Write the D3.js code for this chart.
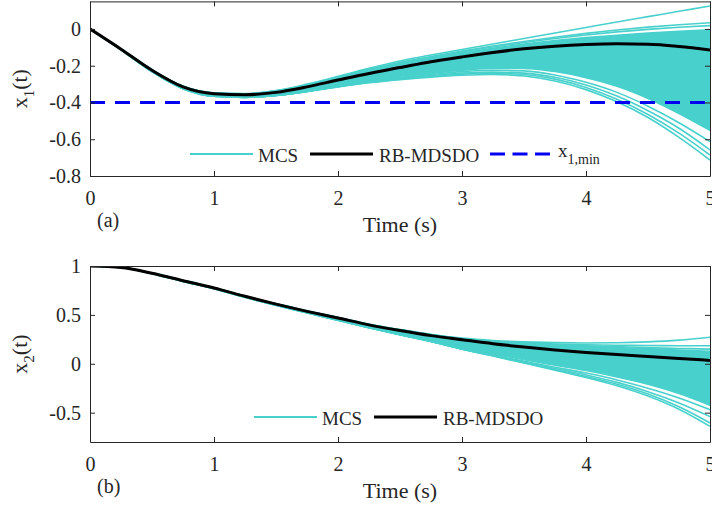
<!DOCTYPE html>
<html><head><meta charset="utf-8">
<script src="https://cdn.jsdelivr.net/npm/d3@7"></script>
<style>body{margin:0;background:#fff}svg{display:block}text{font-family:"Liberation Serif","Times New Roman",serif;fill:#262626}</style>
</head><body>
<svg id="chart" width="712" height="512"></svg>
<script>
const time = [0,0.25,0.5,0.75,1,1.25,1.5,1.75,2,2.25,2.5,2.75,3,3.25,3.5,3.75,4,4.25,4.5,4.75,5];
const xTicks = [0,1,2,3,4,5];

// (a) x1(t)
const x1Mean = [0,-0.11,-0.225,-0.315,-0.352,-0.358,-0.345,-0.315,-0.278,-0.242,-0.21,-0.178,-0.152,-0.128,-0.108,-0.094,-0.085,-0.081,-0.083,-0.095,-0.114];
const x1BandTop = [0,-0.108,-0.222,-0.312,-0.349,-0.354,-0.338,-0.307,-0.265,-0.222,-0.185,-0.155,-0.13,-0.105,-0.082,-0.063,-0.047,-0.034,-0.022,-0.012,-0.004];
const x1BandBottom = [0,-0.113,-0.232,-0.325,-0.366,-0.372,-0.362,-0.34,-0.312,-0.284,-0.262,-0.242,-0.225,-0.215,-0.215,-0.232,-0.265,-0.312,-0.378,-0.46,-0.552];
const x1Upper1 = [0,-0.108,-0.222,-0.312,-0.349,-0.352,-0.335,-0.3,-0.258,-0.214,-0.174,-0.142,-0.112,-0.082,-0.052,-0.022,0.008,0.038,0.067,0.096,0.125];
const x1Upper2 = [0,-0.108,-0.222,-0.312,-0.349,-0.353,-0.337,-0.305,-0.262,-0.22,-0.182,-0.15,-0.12,-0.093,-0.068,-0.045,-0.024,-0.006,0.01,0.023,0.034];
const x1Upper3 = [0,-0.108,-0.222,-0.312,-0.349,-0.353,-0.337,-0.306,-0.263,-0.221,-0.184,-0.153,-0.125,-0.098,-0.074,-0.052,-0.033,-0.016,-0.002,0.009,0.018];
const x1Lower1 = [0,-0.113,-0.232,-0.325,-0.366,-0.372,-0.362,-0.34,-0.313,-0.287,-0.266,-0.248,-0.232,-0.225,-0.228,-0.25,-0.29,-0.345,-0.42,-0.51,-0.613];
const x1Lower2 = [0,-0.113,-0.232,-0.325,-0.366,-0.372,-0.362,-0.34,-0.313,-0.289,-0.27,-0.254,-0.24,-0.235,-0.24,-0.263,-0.305,-0.365,-0.445,-0.54,-0.658];
const x1Lower3 = [0,-0.113,-0.232,-0.325,-0.366,-0.372,-0.362,-0.34,-0.314,-0.291,-0.273,-0.258,-0.246,-0.241,-0.248,-0.273,-0.318,-0.382,-0.465,-0.567,-0.686];
const x1Lower4 = [0,-0.113,-0.232,-0.325,-0.366,-0.372,-0.362,-0.34,-0.315,-0.293,-0.276,-0.262,-0.252,-0.248,-0.256,-0.283,-0.33,-0.396,-0.482,-0.59,-0.713];
const x1Min = -0.4;
const x1Ticks = [0,-0.2,-0.4,-0.6,-0.8];
const x1Domain = [-0.8, 0.15];

// (b) x2(t)
const x2Mean = [1,0.985,0.926,0.85,0.775,0.69,0.61,0.536,0.468,0.398,0.34,0.288,0.246,0.205,0.171,0.141,0.116,0.094,0.075,0.055,0.034];
const x2BandTop = [1,0.986,0.928,0.852,0.777,0.693,0.613,0.54,0.472,0.403,0.345,0.296,0.252,0.226,0.205,0.19,0.18,0.167,0.155,0.14,0.128];
const x2BandBottom = [1,0.984,0.922,0.843,0.767,0.68,0.598,0.522,0.445,0.37,0.3,0.232,0.16,0.1,0.04,-0.015,-0.07,-0.135,-0.21,-0.305,-0.425];
const x2Upper1 = [1,0.986,0.928,0.852,0.777,0.693,0.613,0.54,0.474,0.404,0.35,0.3,0.262,0.238,0.224,0.216,0.213,0.215,0.224,0.242,0.272];
const x2Upper2 = [1,0.986,0.928,0.852,0.777,0.693,0.613,0.54,0.473,0.402,0.348,0.298,0.257,0.232,0.214,0.202,0.194,0.19,0.187,0.185,0.184];
const x2Upper3 = [1,0.986,0.928,0.852,0.777,0.693,0.613,0.54,0.472,0.401,0.346,0.297,0.255,0.229,0.209,0.195,0.185,0.175,0.165,0.157,0.15];
const x2Lower1 = [1,0.984,0.922,0.843,0.767,0.68,0.598,0.522,0.445,0.37,0.298,0.228,0.155,0.09,0.025,-0.035,-0.095,-0.165,-0.25,-0.35,-0.47];
const x2Lower2 = [1,0.984,0.922,0.843,0.767,0.68,0.598,0.522,0.445,0.37,0.298,0.228,0.152,0.085,0.018,-0.048,-0.115,-0.19,-0.285,-0.4,-0.54];
const x2Lower3 = [1,0.984,0.922,0.843,0.767,0.68,0.598,0.522,0.445,0.37,0.298,0.228,0.15,0.082,0.012,-0.058,-0.13,-0.21,-0.31,-0.44,-0.605];
const x2Lower4 = [1,0.984,0.922,0.843,0.767,0.68,0.598,0.522,0.445,0.37,0.298,0.228,0.148,0.079,0.008,-0.065,-0.14,-0.225,-0.33,-0.465,-0.64];
const x2Ticks = [1,0.5,0,-0.5];
const x2Domain = [-0.8, 1];

const cyan = "#48D1CC", blue = "#0000F0", axisColor = "#262626";
const svg = d3.select("#chart");
const x = d3.scaleLinear().domain([0,5]).range([90,710]);

function panel(cfg){
  const y = d3.scaleLinear().domain(cfg.domain).range([cfg.bottom, cfg.top]);
  const g = svg.append("g");
  const clipId = "clip"+cfg.id;
  svg.append("defs").append("clipPath").attr("id",clipId)
    .append("rect").attr("x",90).attr("y",cfg.top).attr("width",620).attr("height",cfg.bottom-cfg.top);
  const plot = g.append("g").attr("clip-path",`url(#${clipId})`);
  const idx = d3.range(time.length);
  const line = arr => d3.line().x(i=>x(time[i])).y(i=>y(arr[i])).curve(d3.curveMonotoneX)(idx);
  const area = d3.area().x(i=>x(time[i])).y0(i=>y(cfg.bandBottom[i])).y1(i=>y(cfg.bandTop[i])).curve(d3.curveMonotoneX);
  plot.append("path").attr("d",area(idx)).attr("fill",cyan).attr("stroke",cyan).attr("stroke-width",1.5);
  cfg.samples.forEach(s=>{
    plot.append("path").attr("d",line(s)).attr("fill","none").attr("stroke",cyan).attr("stroke-width",1.6);
  });
  plot.append("path").attr("d",line(cfg.mean)).attr("fill","none").attr("stroke","#000").attr("stroke-width",3);
  if(cfg.minLine!==undefined){
    plot.append("line").attr("x1",x(0)).attr("x2",x(5)).attr("y1",y(cfg.minLine)).attr("y2",y(cfg.minLine))
      .attr("stroke",blue).attr("stroke-width",3).attr("stroke-dasharray","15,10");
  }
  // axes box
  const axB = d3.axisBottom(x).tickValues(xTicks).tickSizeInner(-5).tickSizeOuter(0).tickPadding(15).tickFormat(d3.format("d"));
  const axT = d3.axisTop(x).tickValues(xTicks).tickSizeInner(-5).tickSizeOuter(0).tickFormat("");
  const axL = d3.axisLeft(y).tickValues(cfg.ticks).tickSizeInner(-5).tickSizeOuter(0).tickPadding(9).tickFormat(d=>String(d));
  const axR = d3.axisRight(y).tickValues(cfg.ticks).tickSizeInner(-5).tickSizeOuter(0).tickFormat("");
  [[axB,`translate(0,${cfg.bottom})`],[axT,`translate(0,${cfg.top})`],[axL,"translate(90,0)"],[axR,"translate(710,0)"]].forEach(([a,t])=>{
    const ga = g.append("g").attr("transform",t).call(a).attr("font-family",null);
    ga.selectAll("path,line").attr("stroke",axisColor).attr("stroke-width",1);
    ga.selectAll("text").attr("font-size",20).attr("fill",axisColor);
  });
  // y label
  const yl = g.append("text").attr("transform",`translate(27,${(cfg.top+cfg.bottom)/2}) rotate(-90)`)
    .attr("text-anchor","middle").attr("font-size",22);
  yl.append("tspan").text("x");
  yl.append("tspan").attr("dy",7).attr("font-size",15).text(cfg.sub);
  yl.append("tspan").attr("dy",-7).text("(t)");
  // x label
  g.append("text").attr("x",400).attr("y",cfg.bottom+56).attr("text-anchor","middle").attr("font-size",22).text("Time (s)");
  g.append("text").attr("x",97).attr("y",cfg.bottom+51).attr("font-size",20).text(cfg.tag);
  // legend
  const ly = cfg.legendY;
  let lx = cfg.legendX;
  g.append("line").attr("x1",lx).attr("x2",lx+63).attr("y1",ly).attr("y2",ly).attr("stroke",cyan).attr("stroke-width",2);
  g.append("text").attr("x",lx+68).attr("y",ly+7.5).attr("font-size",19).text("MCS");
  lx += 120;
  g.append("line").attr("x1",lx).attr("x2",lx+63).attr("y1",ly).attr("y2",ly).attr("stroke","#000").attr("stroke-width",3);
  g.append("text").attr("x",lx+69).attr("y",ly+7.5).attr("font-size",19).text("RB-MDSDO");
  if(cfg.minLine!==undefined){
    lx += 180;
    g.append("line").attr("x1",lx).attr("x2",lx+60).attr("y1",ly).attr("y2",ly).attr("stroke",blue).attr("stroke-width",3).attr("stroke-dasharray","15,7.5");
    const t = g.append("text").attr("x",lx+68).attr("y",ly+3).attr("font-size",19);
    t.append("tspan").text("x");
    t.append("tspan").attr("dy",7).attr("font-size",14).text("1,min");
  }
}

panel({id:"a", top:1.4, bottom:176, domain:x1Domain, ticks:x1Ticks, mean:x1Mean, bandTop:x1BandTop, bandBottom:x1BandBottom,
  samples:[x1Upper1,x1Upper2,x1Upper3,x1Lower1,x1Lower2,x1Lower3,x1Lower4], minLine:x1Min, sub:"1", tag:"(a)", legendX:190, legendY:154});
panel({id:"b", top:266, bottom:442, domain:x2Domain, ticks:x2Ticks, mean:x2Mean, bandTop:x2BandTop, bandBottom:x2BandBottom,
  samples:[x2Upper1,x2Upper2,x2Upper3,x2Lower1,x2Lower2,x2Lower3,x2Lower4], sub:"2", tag:"(b)", legendX:254, legendY:417});
</script>
</body></html>
